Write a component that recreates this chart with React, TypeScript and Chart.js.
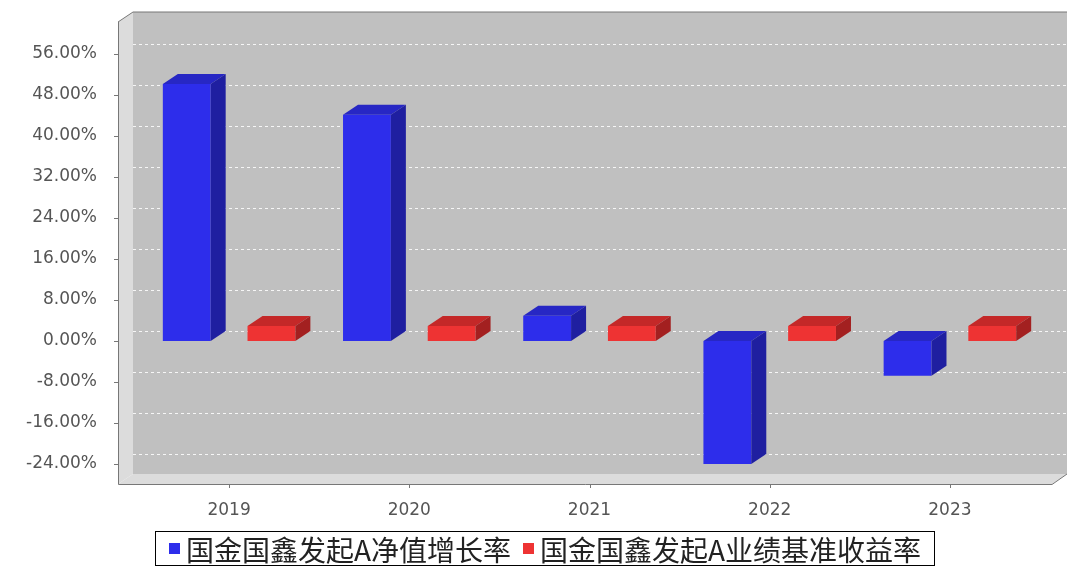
import React, { useEffect, useRef } from 'react';
import Chart from 'chart.js/auto';

const years = ['2019', '2020', '2021', '2022', '2023'];
const navGrowth = [50.1, 44.1, 4.9, -24.0, -6.8];
const benchmark = [2.9, 2.9, 2.9, 2.9, 2.9];
const yTicks = [-24, -16, -8, 0, 8, 16, 24, 32, 40, 48, 56];
const seriesNames = ['国金国鑫发起A净值增长率', '国金国鑫发起A业绩基准收益率'];

const DX = 15;
const DY = -10;
const TOP = 22;
const faces = [
  { front: '#2d2deb', side: '#1f1fa0', top: '#2727c4' },
  { front: '#ee3333', side: '#a32020', top: '#c42828' },
];

const App = () => {
  const chartRef = useRef<HTMLCanvasElement>(null);
  const chartInstance = useRef<Chart | null>(null);

  useEffect(() => {
    document.body.style.margin = '0';
    if (chartInstance.current) chartInstance.current.destroy();
    const ctx = chartRef.current?.getContext('2d');
    if (!ctx) return;

    chartInstance.current = new Chart(ctx, {
      type: 'bar',
      data: {
        labels: years,
        datasets: [
          { label: seriesNames[0], data: navGrowth, backgroundColor: faces[0].front, borderWidth: 0 },
          { label: seriesNames[1], data: benchmark, backgroundColor: faces[1].front, borderWidth: 0 },
        ],
      },
      options: {
        animation: false,
        responsive: false,
        layout: { padding: { top: TOP, right: 27, left: 0, bottom: 0 } },
        datasets: { bar: { categoryPercentage: 0.94, barPercentage: 0.565 } },
        scales: {
          x: {
            grid: { display: false },
            border: { display: false },
            ticks: { color: '#555', font: { family: 'DejaVu Sans', size: 17 }, padding: 8 },
            afterFit: (s: any) => { s.height = 82; },
          },
          y: {
            min: -27.9,
            max: 62.2,
            afterBuildTicks: (s: any) => { s.ticks = yTicks.map(v => ({ value: v })); },
            grid: { display: false },
            border: { display: false },
            ticks: {
              color: '#555',
              font: { family: 'DejaVu Sans', size: 17 },
              padding: 34,
              callback: (v: any) => Number(v).toFixed(2) + '%',
            },
            afterFit: (s: any) => { s.width = 139; },
          },
        },
        plugins: { legend: { display: false }, tooltip: { enabled: false } },
      },
      plugins: [{
        id: 'fixTop',
        afterLayout: (chart: any) => {
          const y = chart.scales.y;
          const bottom = chart.chartArea.bottom;
          y.top = TOP; y.height = bottom - TOP; y.bottom = bottom;
          y.configure();
          chart.chartArea.top = TOP;
          chart.chartArea.height = bottom - TOP;
        },
      }, {
        id: 'walls3d',
        beforeDatasetsDraw: (chart: any) => {
          const { ctx, chartArea, scales } = chart;
          const L = 118, R = 1052, T = chartArea.top, B = chartArea.bottom;
          ctx.save();
          ctx.fillStyle = '#c0c0c0';
          ctx.fillRect(L + DX, T + DY, R - L, B - T);
          ctx.fillStyle = '#dcdcdc';
          ctx.beginPath();
          ctx.moveTo(L, T); ctx.lineTo(L + DX, T + DY); ctx.lineTo(L + DX, B + DY); ctx.lineTo(L, B);
          ctx.closePath(); ctx.fill();
          ctx.beginPath();
          ctx.moveTo(L, B); ctx.lineTo(L + DX, B + DY); ctx.lineTo(R + DX, B + DY); ctx.lineTo(R, B);
          ctx.closePath(); ctx.fill();
          ctx.strokeStyle = 'rgba(255,255,255,0.85)';
          ctx.lineWidth = 1;
          ctx.setLineDash([3, 3]);
          yTicks.forEach(v => {
            const y = Math.round(scales.y.getPixelForValue(v) + DY) + 0.5;
            ctx.beginPath(); ctx.moveTo(L + DX, y); ctx.lineTo(R + DX, y); ctx.stroke();
          });
          ctx.setLineDash([]);
          ctx.strokeStyle = '#777';
          ctx.beginPath();
          ctx.moveTo(L + 0.5, T); ctx.lineTo(L + 0.5, B + 0.5); ctx.lineTo(R, B + 0.5); ctx.lineTo(R + DX, B + DY);
          ctx.moveTo(L, T); ctx.lineTo(L + DX, T + DY); ctx.lineTo(R + DX, T + DY);
          ctx.stroke();
          yTicks.forEach(v => {
            const y = Math.round(scales.y.getPixelForValue(v)) + 0.5;
            ctx.beginPath(); ctx.moveTo(L - 4, y); ctx.lineTo(L, y); ctx.stroke();
          });
          years.forEach((_, i) => {
            const x = Math.round(scales.x.getPixelForTick(i)) + 0.5;
            ctx.beginPath(); ctx.moveTo(x, B); ctx.lineTo(x, B + 4); ctx.stroke();
          });
          ctx.restore();
        },
        afterDatasetsDraw: (chart: any) => {
          const { ctx } = chart;
          ctx.save();
          chart.data.datasets.forEach((_: any, di: number) => {
            chart.getDatasetMeta(di).data.forEach((bar: any) => {
              const x = bar.x - bar.width / 2, w = bar.width;
              const top = Math.min(bar.y, bar.base), bot = Math.max(bar.y, bar.base);
              ctx.fillStyle = faces[di].top;
              ctx.beginPath();
              ctx.moveTo(x, top); ctx.lineTo(x + DX, top + DY); ctx.lineTo(x + w + DX, top + DY); ctx.lineTo(x + w, top);
              ctx.closePath(); ctx.fill();
              ctx.fillStyle = faces[di].side;
              ctx.beginPath();
              ctx.moveTo(x + w, top); ctx.lineTo(x + w + DX, top + DY); ctx.lineTo(x + w + DX, bot + DY); ctx.lineTo(x + w, bot);
              ctx.closePath(); ctx.fill();
            });
          });
          ctx.restore();
        },
      }],
    });

    return () => {
      if (chartInstance.current) chartInstance.current.destroy();
    };
  }, []);

  return (
    <div style={{ position: 'relative', width: 1067, height: 566, background: '#fff' }}>
      <canvas ref={chartRef} width={1067} height={566} />
      <div style={{
        position: 'absolute', left: 155, top: 531, width: 778, height: 33, border: '1px solid #000',
        display: 'flex', alignItems: 'center', justifyContent: 'center', gap: 12,
        fontFamily: '"Noto Sans CJK SC", sans-serif', fontSize: 28, color: '#222', whiteSpace: 'nowrap',
      }}>
        {seriesNames.map((n, i) => (
          <span key={n} style={{ display: 'flex', alignItems: 'center' }}>
            <span style={{ width: 11, height: 11, background: faces[i].front, marginRight: 6, display: 'inline-block' }} />
            {n}
          </span>
        ))}
      </div>
    </div>
  );
};

export default App;
